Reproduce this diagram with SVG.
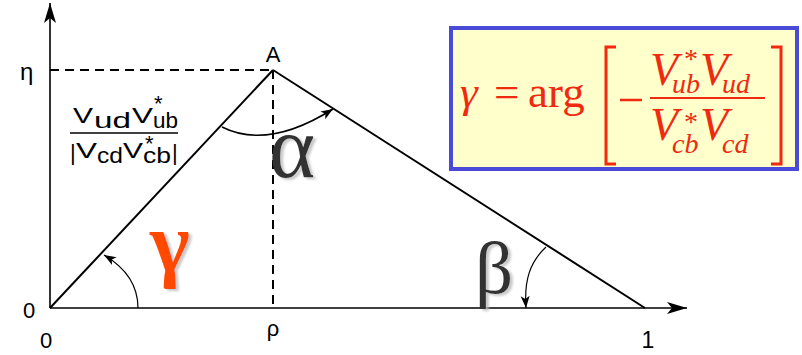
<svg xmlns="http://www.w3.org/2000/svg" width="802" height="355" viewBox="0 0 802 355">
<style>
.ax{stroke:#000;stroke-width:1.6;fill:none}
.edge{stroke:#000;stroke-width:2;fill:none}
.dash{stroke:#000;stroke-width:2;stroke-dasharray:9,6;fill:none}
.arc{stroke:#000;stroke-width:1.2;fill:none}
.lbl{font-family:"Liberation Sans",Arial,sans-serif;fill:#000}
.big{font-family:"Liberation Serif","Times New Roman",serif;fill:#333}
.f{font-family:"Liberation Serif","Times New Roman",serif;fill:#f02a10}
.fi{font-family:"Liberation Serif","Times New Roman",serif;font-style:italic;fill:#f02a10}
.up{font-style:normal}
.rs{stroke:#f02a10;fill:none}
</style>
<defs>
<filter id="shadow" x="-20%" y="-20%" width="150%" height="150%">
<feDropShadow dx="3" dy="2" stdDeviation="0.8" flood-color="#bbbbbb" flood-opacity="0.8"/>
</filter>
<marker id="ah" viewBox="-14 -6 15 12" refX="0" refY="0" markerWidth="15" markerHeight="12" markerUnits="userSpaceOnUse" orient="auto">
<path d="M0,0 L-12,-4.5 L-9,0 L-12,4.5 Z" fill="#000"/>
</marker>
<marker id="axh" viewBox="-22 -7 23 14" refX="0" refY="0" markerWidth="23" markerHeight="14" markerUnits="userSpaceOnUse" orient="auto">
<path d="M0,0 L-20,-6 L-15,0 L-20,6 Z" fill="#000"/>
</marker>
</defs>

<g id="connectors">
<line class="ax" x1="50" y1="308" x2="50" y2="3" marker-end="url(#axh)"/>
<line class="ax" x1="50" y1="308" x2="687" y2="308" marker-end="url(#axh)"/>
<line class="dash" x1="50" y1="70" x2="273" y2="70"/>
<line class="dash" x1="273" y1="70" x2="273" y2="308"/>
<line class="edge" x1="50" y1="308" x2="273" y2="70"/>
<line class="edge" x1="273" y1="70" x2="645" y2="308"/>
<path class="arc" style="stroke-width:1.6" d="M222,127 Q268,150 333,109" marker-end="url(#ah)"/>
<path class="arc" d="M138,308 C138,285 126,268 104,255" marker-end="url(#ah)"/>
<path class="arc" d="M546,247 C530,262 524,280 526,308" marker-end="url(#ah)"/>
</g>

<g id="axis-labels">
<text class="lbl" x="20" y="80" font-size="24">η</text>
<text class="lbl" x="29" y="318" font-size="22" text-anchor="middle">0</text>
<text class="lbl" x="46" y="348" font-size="22" text-anchor="middle">0</text>
<text class="lbl" x="273" y="336" font-size="22" text-anchor="middle">ρ</text>
<text class="lbl" x="648" y="348" font-size="23" text-anchor="middle">1</text>
</g>

<g id="node-A">
<text class="lbl" x="273" y="62" font-size="22" text-anchor="middle">A</text>
</g>

<g id="side-label">
<text class="lbl" font-size="22"><tspan x="73" y="123" textLength="20" lengthAdjust="spacingAndGlyphs">V</tspan><tspan x="94" y="128" textLength="37" lengthAdjust="spacingAndGlyphs">ud</tspan><tspan x="132" y="123" textLength="21" lengthAdjust="spacingAndGlyphs">V</tspan><tspan x="154" y="111" font-size="22">*</tspan><tspan x="153" y="128" textLength="25" lengthAdjust="spacingAndGlyphs">ub</tspan></text>
<line x1="70" y1="133" x2="178" y2="133" stroke="#000" stroke-width="1.6"/>
<text class="lbl" font-size="22"><tspan x="70" y="160">|</tspan><tspan x="76" y="158" textLength="21" lengthAdjust="spacingAndGlyphs">V</tspan><tspan x="97" y="163" textLength="26" lengthAdjust="spacingAndGlyphs">cd</tspan><tspan x="123" y="158" textLength="20" lengthAdjust="spacingAndGlyphs">V</tspan><tspan x="145" y="151" font-size="22">*</tspan><tspan x="143" y="163" textLength="28" lengthAdjust="spacingAndGlyphs">cb</tspan><tspan x="172" y="160">|</tspan></text>
</g>

<g id="angle-alpha">
<text class="big" x="292" y="177" font-size="88" text-anchor="middle" filter="url(#shadow)">α</text>
</g>
<g id="angle-beta">
<text class="big" x="494" y="293" font-size="75" text-anchor="middle" filter="url(#shadow)">β</text>
</g>
<g id="angle-gamma">
<text x="170" y="271" font-size="85" font-weight="bold" text-anchor="middle" filter="url(#shadow)" style="font-family:'Liberation Serif','Times New Roman',serif;fill:#ff4a00">γ</text>
</g>

<g id="formula-box">
<rect x="451" y="28" width="346" height="141" fill="#ffffcc" stroke="#4a4ad8" stroke-width="4"/>
<text class="f" font-size="45"><tspan class="fi" x="460" y="107">γ</tspan><tspan x="494" y="107">=</tspan><tspan x="528" y="107">arg</tspan></text>
<path class="rs" stroke-width="3" d="M616,47 L606,47 L606,164 L616,164"/>
<path class="rs" stroke-width="3" d="M771,47 L781,47 L781,164 L771,164"/>
<line class="rs" stroke-width="2.5" x1="620" y1="100" x2="642" y2="100"/>
<line class="rs" stroke-width="2" x1="650" y1="98" x2="765" y2="98"/>
<text class="fi" font-size="46"><tspan x="650" y="85">V</tspan><tspan class="up" x="684" y="68" font-size="28">*</tspan><tspan x="672" y="93" font-size="28">ub</tspan><tspan x="700" y="85">V</tspan><tspan x="722" y="93" font-size="28">ud</tspan></text>
<text class="fi" font-size="46"><tspan x="650" y="140">V</tspan><tspan class="up" x="684" y="131" font-size="28">*</tspan><tspan x="672" y="153" font-size="28">cb</tspan><tspan x="700" y="140">V</tspan><tspan x="722" y="153" font-size="28">cd</tspan></text>
</g>
</svg>
